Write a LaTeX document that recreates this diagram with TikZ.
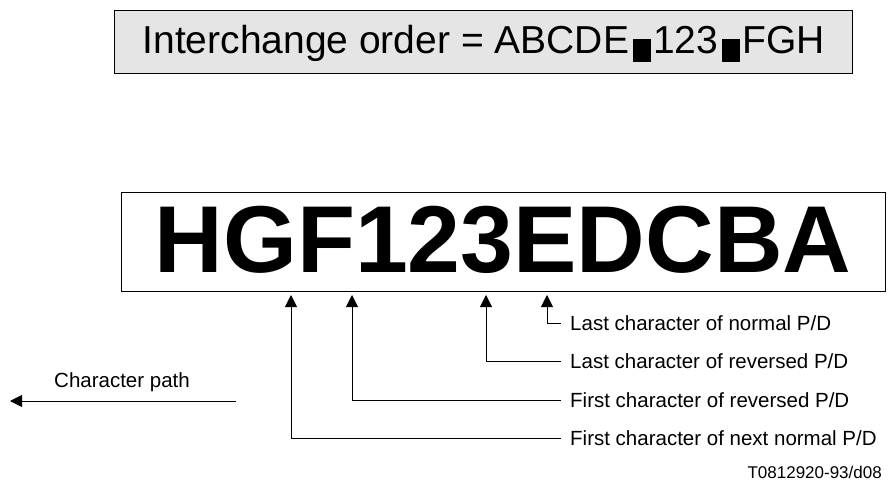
\documentclass[tikz,border=0pt]{standalone}
\usepackage{fontspec}
\setmainfont{Liberation Sans}
\usetikzlibrary{arrows.meta}
\definecolor{boxgray}{RGB}{229,229,229}
\newcommand{\blksq}{\hspace{4pt}\rule[-9pt]{18pt}{23pt}\hspace{2pt}}
\tikzset{
  lbl/.style={anchor=west,inner xsep=9pt,inner ysep=0pt,text height=14.5pt,text depth=0pt,font=\fontsize{20.5}{24}\selectfont},
  pointer/.style={line width=0.9pt,-{Triangle[width=12pt,length=12pt]}},
}
\begin{document}
\begin{tikzpicture}[x=1pt,y=-1pt]
\useasboundingbox (0,0) rectangle (889,484);
% top box
\node[draw,line width=1pt,fill=boxgray,anchor=north west,inner xsep=28pt,inner ysep=0pt,
      text height=43pt,text depth=20pt,font=\fontsize{39}{44}\selectfont] (order) at (114,10)
  {Interchange order = ABCDE\blksq 123\blksq FGH};
% big box
\node[draw,line width=1pt,minimum width=764pt,minimum height=99pt,inner sep=0pt,
      text height=68pt,text depth=7pt,font=\fontsize{95}{100}\bfseries\selectfont] (big) at (503,241.5)
  {HGF123EDCBA};
% arrow tips
\coordinate (a1) at (291,295);
\coordinate (a2) at (352,295);
\coordinate (a3) at (486,295);
\coordinate (a4) at (547,295);
% labels
\node[lbl] (l1) at (561,323) {Last character of normal P/D};
\node[lbl] (l2) at (561,361) {Last character of reversed P/D};
\node[lbl] (l3) at (561,400) {First character of reversed P/D};
\node[lbl] (l4) at (561,438) {First character of next normal P/D};
\draw[pointer] (l1.west) -| (a4);
\draw[pointer] (l2.west) -| (a3);
\draw[pointer] (l3.west) -| (a2);
\draw[pointer] (l4.west) -| (a1);
% character path
\coordinate (cpA) at (236,401);
\coordinate (cpB) at (10,401);
\draw[pointer] (cpA) -- (cpB);
\node[anchor=base,inner sep=0pt,font=\fontsize{20.5}{24}\selectfont] (cpl) at (122,387) {Character path};
% reference
\node[anchor=base east,inner sep=0pt,font=\fontsize{17}{20}\selectfont] (ref) at (882,478) {T0812920-93/d08};
\end{tikzpicture}
\end{document}
